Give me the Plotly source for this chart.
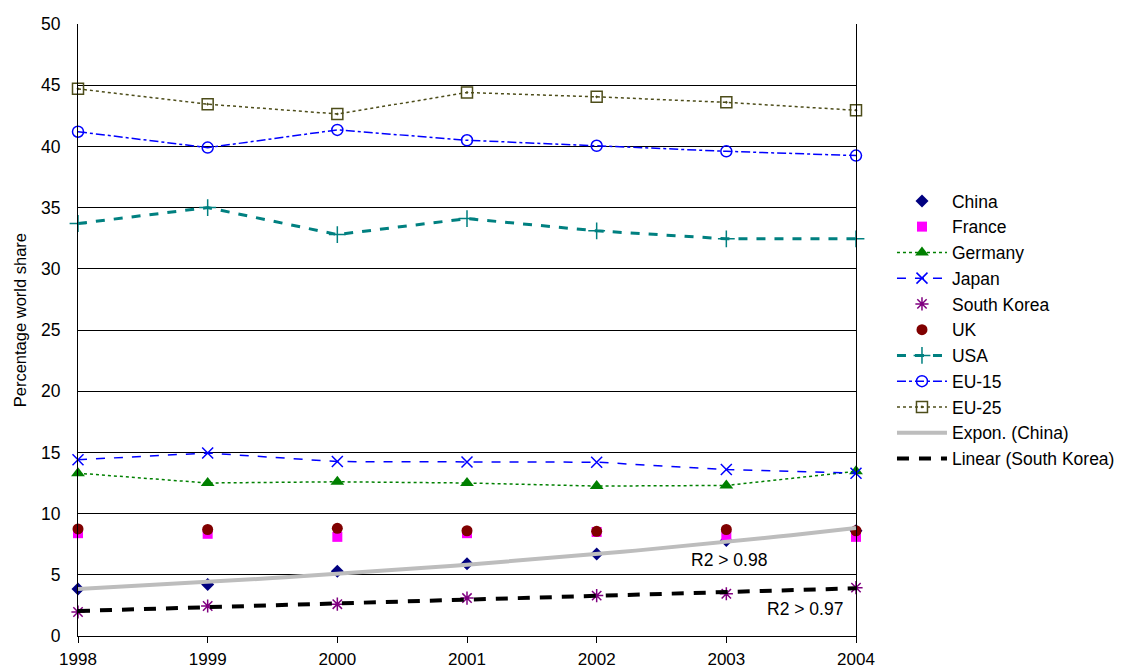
import numpy as np
import plotly.graph_objects as go

years = [1998, 1999, 2000, 2001, 2002, 2003, 2004]
china = [3.85, 4.2, 5.3, 5.9, 6.7, 7.8, 8.6]
france = [8.4, 8.35, 8.1, 8.4, 8.5, 8.2, 8.1]
germany = [13.3, 12.5, 12.6, 12.5, 12.25, 12.3, 13.45]
japan = [14.4, 14.95, 14.25, 14.22, 14.2, 13.6, 13.3]
south_korea = [1.96, 2.45, 2.6, 3.1, 3.3, 3.45, 3.95]
uk = [8.75, 8.7, 8.8, 8.6, 8.55, 8.7, 8.6]
usa = [33.7, 35.0, 32.8, 34.1, 33.1, 32.45, 32.45]
eu15 = [41.2, 39.9, 41.35, 40.5, 40.05, 39.6, 39.25]
eu25 = [44.7, 43.45, 42.65, 44.4, 44.05, 43.6, 42.95]

# trendlines fitted from the data (as the spreadsheet does)
yrs = np.array(years, dtype=float)
b, a = np.polyfit(yrs - 1998, np.log(china), 1)
xt = np.linspace(1998, 2004, 61)
china_trend = np.exp(a + b * (xt - 1998))
m, c = np.polyfit(yrs - 1998, south_korea, 1)
sk_trend = m * (yrs - 1998) + c

FONT = "Liberation Sans, Arial"
fig = go.Figure()

def add(name, y, color, symbol, size, mode="markers", dash=None, width=1.5, lw=None):
    fig.add_trace(go.Scatter(
        x=years, y=y, name=name, mode=mode, cliponaxis=False,
        legendgroup=name,
        marker=dict(color=color, symbol=symbol, size=size,
                    line=dict(color=color, width=lw if lw is not None else 0)),
        line=dict(color=color, dash=dash, width=width)))

add("China", china, "#000080", "diamond", 10)
add("France", france, "#FF00FF", "square", 10)
add("Germany", germany, "#008000", "triangle-up", 12, mode="lines+markers", dash="dot", width=1.5)
add("Japan", japan, "#0000FF", "x-thin", 11, mode="lines+markers", dash="dash", width=1.5, lw=1.5)
add("South Korea", south_korea, "#800080", "asterisk-open", 11, lw=1.5)
add("UK", uk, "#800000", "circle", 11)
add("USA", usa, "#008080", "cross-thin", 12, mode="lines+markers", dash="dash", width=3, lw=1.5)
add("EU-15", eu15, "#0000FF", "circle-open", 11, mode="lines+markers", dash="dashdot", width=1.5, lw=1.5)
add("EU-25", eu25, "#4D4D1A", "square-open-dot", 11, mode="lines+markers", dash="dot", width=1.5, lw=1.5)

fig.add_trace(go.Scatter(x=xt, y=china_trend, name="Expon. (China)", mode="lines",
                         legendgroup="expon", line=dict(color="#BDBDBD", width=4)))
fig.add_trace(go.Scatter(x=years, y=sk_trend, name="Linear (South Korea)", mode="lines",
                         legendgroup="linear", line=dict(color="black", width=4, dash="12px,10px")))

fig.add_annotation(x=2003.02, y=6.2, xref="x", yref="y", text="R2 > 0.98", showarrow=False,
                   xanchor="center", yanchor="middle", font=dict(size=17.5, color="black"))
fig.add_annotation(x=2003.61, y=2.2, xref="x", yref="y", text="R2 > 0.97", showarrow=False,
                   xanchor="center", yanchor="middle", font=dict(size=17.5, color="black"))
fig.add_annotation(x=-0.0745, y=0.516, xref="paper", yref="paper", text="Percentage world share",
                   showarrow=False, textangle=-90, xanchor="center", yanchor="middle",
                   font=dict(size=16.5, color="black"))

fig.update_layout(
    width=1123, height=662,
    margin=dict(l=70, r=274, t=16, b=34),
    paper_bgcolor="white", plot_bgcolor="white",
    font=dict(family=FONT, size=17.5, color="black"),
    showlegend=True,
    legend=dict(x=1.0449, y=0.5, xanchor="left", yanchor="middle", itemwidth=50,
                font=dict(size=17.5), tracegroupgap=0, bgcolor="rgba(0,0,0,0)"),
    xaxis=dict(range=[1998, 2004], tickmode="array", tickvals=years,
               ticktext=[str(v) for v in years], showgrid=False, zeroline=False,
               showline=True, linecolor="black", linewidth=1, automargin=False,
               ticks="outside", ticklen=6, tickcolor="black", ticklabelstandoff=2,
               tickfont=dict(size=17)),
    yaxis=dict(range=[0, 50], dtick=5, showgrid=True, gridcolor="black", gridwidth=1,
               zeroline=False, showline=True, linecolor="black", linewidth=1, mirror=True,
               ticks="", tickfont=dict(size=17.5), ticklabelstandoff=13, automargin=False),
)

fig.write_html("out.html")
